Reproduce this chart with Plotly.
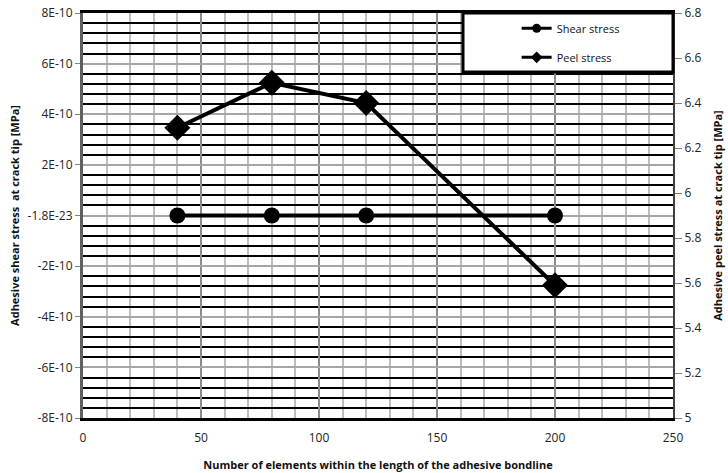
import plotly.graph_objects as go

# Data
elements = [40, 80, 120, 200]
shear_stress = [0.0, 0.0, 0.0, 0.0]
peel_stress = [6.29, 6.49, 6.40, 5.59]

left_tickvals = [-8e-10, -6e-10, -4e-10, -2e-10, 0, 2e-10, 4e-10, 6e-10, 8e-10]
left_ticktext = ["-8E-10", "-6E-10", "-4E-10", "-2E-10", "-1.8E-23", "2E-10", "4E-10", "6E-10", "8E-10"]
right_tickvals = [5, 5.2, 5.4, 5.6, 5.8, 6, 6.2, 6.4, 6.6, 6.8]
right_ticktext = ["5", "5.2", "5.4", "5.6", "5.8", "6", "6.2", "6.4", "6.6", "6.8"]
x_tickvals = [0, 50, 100, 150, 200, 250]

FONT = "Open Sans"

fig = go.Figure()

# Data traces
fig.add_trace(go.Scatter(
    x=elements, y=shear_stress, mode="lines+markers", name="Shear stress",
    line=dict(color="black", width=4),
    marker=dict(symbol="circle", size=16, color="black"),
    showlegend=False, yaxis="y"))
fig.add_trace(go.Scatter(
    x=elements, y=peel_stress, mode="lines+markers", name="Peel stress",
    line=dict(color="black", width=4),
    marker=dict(symbol="diamond", size=20, color="black"),
    showlegend=False, yaxis="y2"))

# Legend entries (smaller symbols as in the reference legend)
fig.add_trace(go.Scatter(
    x=[None], y=[None], mode="lines+markers", name="Shear stress",
    line=dict(color="black", width=3),
    marker=dict(symbol="circle", size=9, color="black"),
    legendgroup="a", yaxis="y"))
fig.add_trace(go.Scatter(
    x=[None], y=[None], mode="lines+markers", name="Peel stress",
    line=dict(color="black", width=3),
    marker=dict(symbol="diamond", size=9, color="black"),
    legendgroup="b", yaxis="y2"))

fig.update_layout(
    width=728, height=473,
    margin=dict(l=83, r=55, t=13, b=55, autoexpand=False),
    paper_bgcolor="white", plot_bgcolor="white",
    font=dict(family=FONT, size=12, color="#222"),
    xaxis=dict(
        range=[0, 250], tickvals=x_tickvals, automargin=False,
        showgrid=True, gridcolor="#8c8c8c", gridwidth=2,
        minor=dict(dtick=10, showgrid=True, gridcolor="#bdbdbd", gridwidth=2),
        showline=True, linecolor="black", linewidth=3, mirror=True,
        ticks="outside", ticklen=7, tickcolor="rgba(0,0,0,0)", zeroline=False,
        title=dict(text="<b>Number of elements within the length of the adhesive bondline</b>",
                   font=dict(size=11, color="#111"), standoff=16),
        tickfont=dict(size=12),
    ),
    yaxis=dict(
        range=[-8e-10, 8e-10], tickvals=left_tickvals, ticktext=left_ticktext,
        automargin=False,
        showgrid=True, gridcolor="#a6a6a6", gridwidth=2,
        minor=dict(dtick=0.4e-10, tick0=0, showgrid=True, gridcolor="black", gridwidth=2),
        showline=True, linecolor="#606060", linewidth=3,
        ticks="outside", ticklen=5, tickcolor="#808080", tickwidth=1,
        zeroline=False,
        title=dict(text="<b>Adhesive shear stress  at crack tip [MPa]</b>",
                   font=dict(size=11, color="#111"), standoff=6),
        tickfont=dict(size=12),
    ),
    yaxis2=dict(
        range=[5, 6.8], tickvals=right_tickvals, ticktext=right_ticktext,
        automargin=False,
        overlaying="y", side="right", showgrid=False, zeroline=False,
        showline=True, linecolor="#404040", linewidth=2,
        ticks="outside", ticklen=7, tickcolor="#808080", tickwidth=1,
        title=dict(text="<b>Adhesive peel stress at crack tip [MPa]</b>",
                   font=dict(size=11, color="#111"), standoff=14),
        tickfont=dict(size=12),
    ),
    legend=dict(
        x=0.735, y=0.998, xanchor="left", yanchor="top",
        bgcolor="rgba(0,0,0,0)", borderwidth=0,
        font=dict(size=11, color="#111"),
        tracegroupgap=10, itemclick=False,
    ),
    shapes=[dict(
        type="rect", xref="paper", yref="paper",
        x0=(463 - 83) / 590, x1=1.0, y0=(418 - 72) / 405, y1=1.0,
        fillcolor="white", line=dict(color="black", width=3), layer="above",
    )],
)

fig.write_html("out.html", config={"displayModeBar": False},
               post_script="document.body.style.margin='0';")
